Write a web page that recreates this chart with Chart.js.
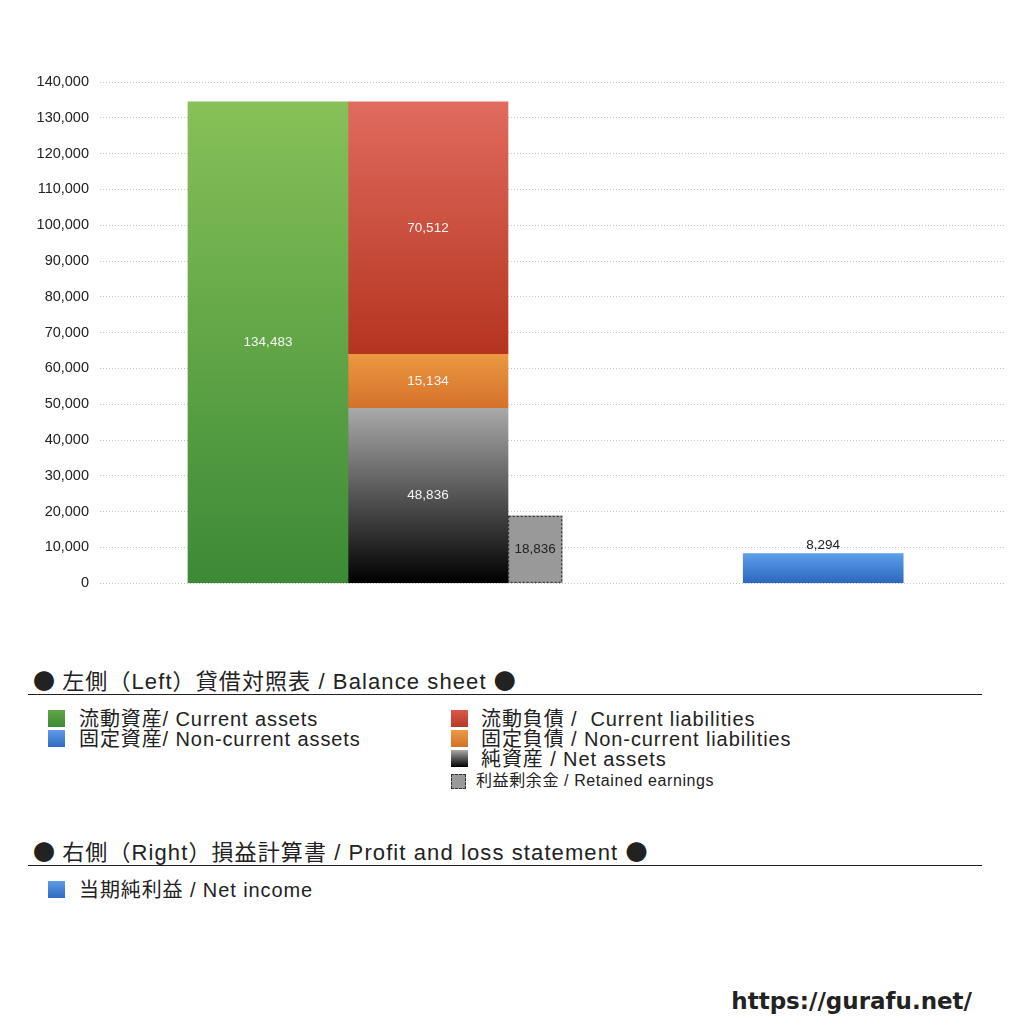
<!DOCTYPE html>
<html>
<head>
<meta charset="utf-8">
<script src="https://cdn.jsdelivr.net/npm/chart.js@4.4.1/dist/chart.umd.min.js"></script>
<style>
  body { margin: 0; background: #fff; font-family: "Liberation Sans", "Noto Sans CJK JP", sans-serif; color: #222; }
  #page { position: relative; width: 1024px; height: 1024px; overflow: hidden; }
  #wrap { position: absolute; left: 0; top: 0; width: 1024px; height: 603px; }
  .head { position: absolute; left: 33px; font-size: 22px; white-space: nowrap; letter-spacing: 1.1px; }
  .dot { font-family: "Noto Sans CJK JP", sans-serif; letter-spacing: 0; }
  .rule { position: absolute; left: 28px; width: 954px; height: 0; border-top: 1px solid #222; }
  .item { position: absolute; font-size: 20px; line-height: 20px; white-space: nowrap; letter-spacing: 0.9px; }
  .item.small { font-size: 16px; letter-spacing: 0.6px; }
  .sw { position: absolute; width: 17px; height: 17px; }
  .sw.small { width: 13px; height: 13px; border: 1px dashed #333; background: #999; }
  #mark { position: absolute; right: 52px; top: 988px; font-size: 23px; font-weight: bold; font-family: "DejaVu Sans", sans-serif; }
</style>
</head>
<body>
<div id="page">
  <div id="wrap"><canvas id="myChart"></canvas></div>

  <div class="head" style="top:663px"><span class="dot">●</span> 左側（Left）貸借対照表 / Balance sheet <span class="dot">●</span></div>
  <div class="rule" style="top:694px"></div>
  <div class="sw" style="left:48px;top:710px;background:linear-gradient(#5fa64a,#3d8a35)"></div>
  <div class="item" style="left:79px;top:709px">流動資産/ Current assets</div>
  <div class="sw" style="left:48px;top:730px;background:linear-gradient(#5f9be6,#2f6bc0)"></div>
  <div class="item" style="left:79px;top:729px">固定資産/ Non-current assets</div>
  <div class="sw" style="left:451px;top:710px;background:linear-gradient(#d9584a,#b83a22)"></div>
  <div class="item" style="left:481px;top:709px">流動負債 /&nbsp; Current liabilities</div>
  <div class="sw" style="left:451px;top:730px;background:linear-gradient(#eb9a45,#d2722a)"></div>
  <div class="item" style="left:481px;top:729px">固定負債 / Non-current liabilities</div>
  <div class="sw" style="left:451px;top:750px;background:linear-gradient(#aaa,#000)"></div>
  <div class="item" style="left:481px;top:749px">純資産 / Net assets</div>
  <div class="sw small" style="left:451px;top:774px"></div>
  <div class="item small" style="left:476px;top:771px">利益剰余金 / Retained earnings</div>

  <div class="head" style="top:834px"><span class="dot">●</span> 右側（Right）損益計算書 / Profit and loss statement <span class="dot">●</span></div>
  <div class="rule" style="top:865px"></div>
  <div class="sw" style="left:48px;top:881px;background:linear-gradient(#5f9be6,#2f6bc0)"></div>
  <div class="item" style="left:79px;top:880px">当期純利益 / Net income</div>

  <div id="mark">https://gurafu.net/</div>
</div>
<script>
// values (million yen)
const currentAssets = [134483];
const netAssets = [48836];
const nonCurrentLiabilities = [15134];
const currentLiabilities = [70512];
const retainedEarnings = [18836];
const netIncome = [8294];
const yTicks = [0, 10000, 20000, 30000, 40000, 50000, 60000, 70000, 80000, 90000, 100000, 110000, 120000, 130000, 140000];

// column slots on the hidden x scale
const slotAssets = 1.05, slotLiab = 2.05, slotRetained = 2.72, slotIncome = 4.52;

const ctx = document.getElementById('myChart').getContext('2d');

function grad(top, bottom, base, value) {
    return (c) => {
        const chart = c.chart;
        if (!chart.chartArea) return bottom;
        const y = chart.scales.y;
        const g = chart.ctx.createLinearGradient(0, y.getPixelForValue(base + value), 0, y.getPixelForValue(base));
        g.addColorStop(0, top);
        g.addColorStop(1, bottom);
        return g;
    };
}

const fmt = v => v.toLocaleString('en-US');

const valueLabels = {
    id: 'valueLabels',
    afterDatasetsDraw(chart) {
        const c = chart.ctx;
        chart.data.datasets.forEach((ds, i) => {
            const meta = chart.getDatasetMeta(i);
            meta.data.forEach((el, j) => {
                const v = ds.data[j].y;
                c.save();
                if (ds.dashed) {
                    c.setLineDash([2, 2]);
                    c.strokeStyle = '#222';
                    c.lineWidth = 1;
                    c.strokeRect(el.x - el.width / 2 + 0.5, el.y + 0.5, el.width - 1, el.base - el.y - 1);
                    c.setLineDash([]);
                }
                c.font = '13.5px "Liberation Sans", sans-serif';
                c.textAlign = 'center';
                c.textBaseline = 'middle';
                c.fillStyle = ds.labelColor;
                const ty = ds.labelTop ? el.y - 8 : (el.y + el.base) / 2;
                c.fillText(fmt(v), el.x, ty);
                c.restore();
            });
        });
    }
};

const common = { grouped: false, barThickness: 160, borderWidth: 0 };

const chart = new Chart(ctx, {
    type: 'bar',
    data: {
        datasets: [
            Object.assign({}, common, {
                label: '流動資産/ Current assets', stack: 'a',
                data: [{ x: slotAssets, y: currentAssets[0] }],
                backgroundColor: grad('#87c158', '#3c8a36', 0, currentAssets[0]),
                labelColor: '#f4f4f4'
            }),
            Object.assign({}, common, {
                label: '純資産 / Net assets', stack: 'b',
                data: [{ x: slotLiab, y: netAssets[0] }],
                backgroundColor: grad('#a9a9a9', '#000000', 0, netAssets[0]),
                labelColor: '#f4f4f4'
            }),
            Object.assign({}, common, {
                label: '固定負債 / Non-current liabilities', stack: 'b',
                data: [{ x: slotLiab, y: nonCurrentLiabilities[0] }],
                backgroundColor: grad('#eb9840', '#d4712c', netAssets[0], nonCurrentLiabilities[0]),
                labelColor: '#f4f4f4'
            }),
            Object.assign({}, common, {
                label: '流動負債 / Current liabilities', stack: 'b',
                data: [{ x: slotLiab, y: currentLiabilities[0] }],
                backgroundColor: grad('#e06b5f', '#b5341f', netAssets[0] + nonCurrentLiabilities[0], currentLiabilities[0]),
                labelColor: '#f4f4f4'
            }),
            Object.assign({}, common, {
                label: '利益剰余金 / Retained earnings', stack: 'c',
                data: [{ x: slotRetained, y: retainedEarnings[0] }],
                backgroundColor: '#999999',
                barThickness: 54, labelColor: '#222', dashed: true
            }),
            Object.assign({}, common, {
                label: '当期純利益 / Net income', stack: 'd',
                data: [{ x: slotIncome, y: netIncome[0] }],
                backgroundColor: grad('#5e9fea', '#2c66bd', 0, netIncome[0]),
                labelColor: '#222', labelTop: true
            })
        ]
    },
    options: {
        responsive: true,
        maintainAspectRatio: false,
        animation: false,
        layout: { padding: { top: 82, bottom: 14, left: 0, right: 19 } },
        plugins: {
            legend: { display: false },
            tooltip: { enabled: false }
        },
        scales: {
            x: {
                type: 'linear', display: false, offset: false, min: 0, max: 5.65625,
                grid: { display: false }
            },
            y: {
                stacked: true,
                min: 0, max: 140000,
                afterFit: s => { s.width = 100; },
                afterBuildTicks: s => { s.ticks = yTicks.map(v => ({ value: v })); },
                ticks: {
                    padding: 11,
                    color: '#222',
                    font: { size: 14.5, family: '"Liberation Sans", sans-serif' },
                    callback: v => fmt(v)
                },
                grid: { color: '#c4c4c4', drawTicks: false, lineWidth: 1 },
                border: { display: false, dash: [1, 2] }
            }
        }
    },
    plugins: [valueLabels]
});
</script>
</body>
</html>
